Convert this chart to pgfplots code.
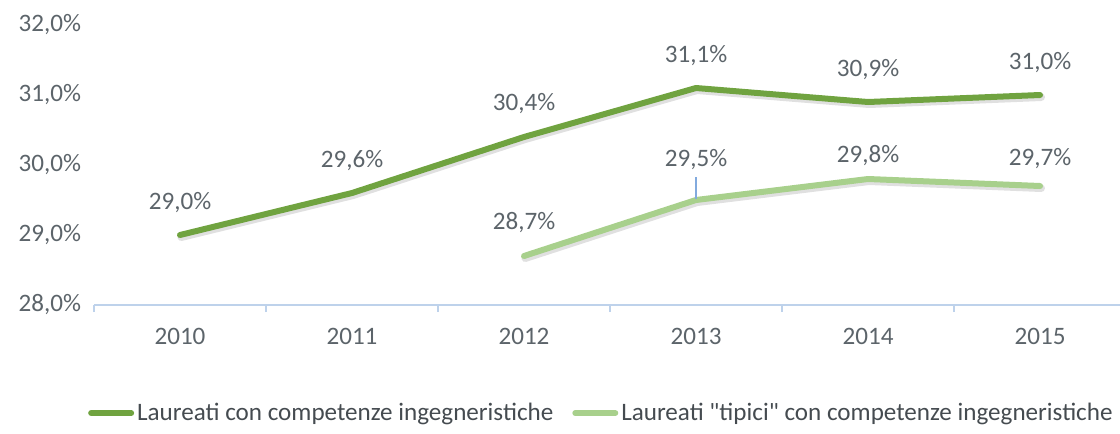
\documentclass[border=0pt]{standalone}
\usepackage{fontspec}
\setmainfont{Carlito}
\usepackage{pgfplots}
\usepackage{pgfplotstable}
\pgfplotsset{compat=1.18}
\definecolor{darkgr}{RGB}{112,163,64}
\definecolor{lightgr}{RGB}{168,208,140}
\definecolor{txtgray}{RGB}{92,100,106}
\definecolor{axblue}{RGB}{190,210,235}
\definecolor{leader}{RGB}{130,170,222}

% x y label-offset(bp)
\pgfplotstableread{
x y off
0 29.0 16
1 29.6 16
2 30.4 16.5
3 31.1 16
4 30.9 16
5 31.0 16
}\laureati
\pgfplotstableread{
x y off
2 28.7 16.5
3 29.5 20
4 29.8 11.5
5 29.7 13.5
}\tipici

\pgfplotsset{
    pctlabels/.style={
        nodes near coords={\pgfmathprintnumber[fixed,fixed zerofill,precision=1,use comma]{\pgfplotspointmeta}\%},
        point meta=y,
        visualization depends on={\thisrow{off} \as \off},
        every node near coord/.append style={anchor=center, yshift=\off bp,
            font=\fontsize{12.6}{14}\selectfont, text=txtgray},
    },
    shadowline/.style={black, opacity=0.12, line width=3.8bp, line join=round,
        line cap=round, forget plot, transform canvas={xshift=0.6bp, yshift=-1.1bp}},
}

\begin{document}
\begin{tikzpicture}
\path[use as bounding box] (-47bp,-64.5bp) rectangle (513bp,152.5bp);
\begin{axis}[
    at={(0,0)}, anchor=south west,
    scale only axis,
    width=513bp, height=140bp,
    xmin=-0.5, xmax=5.465,
    ymin=28, ymax=32,
    xtick={0,...,5},
    xticklabels={2010,2011,2012,2013,2014,2015},
    minor xtick={-0.5,0.5,...,4.5},
    ytick={28,29,30,31,32},
    yticklabel={\pgfmathprintnumber[fixed,fixed zerofill,precision=1,use comma]{\tick}\%},
    /pgf/number format/assume math mode=true,
    axis x line*=bottom,
    axis y line*=left,
    y axis line style={draw=none},
    x axis line style={draw=axblue, line width=0.6pt, -},
    major x tick style={draw=none},
    minor x tick style={draw=axblue, line width=0.6pt},
    minor tick length=3.5bp,
    xtick align=outside,
    ytick style={draw=none},
    tick label style={font=\fontsize{12.6}{14}\selectfont, text=txtgray},
    xticklabel style={yshift=-4bp},
    yticklabel style={xshift=-3bp},
    clip=false,
    legend style={
        at={(0.495,-0.386)}, anchor=center,
        legend columns=2, draw=none, fill=none,
        font=\fontsize{12.6}{15}\selectfont, text=txtgray!75!black,
        nodes={inner xsep=1.5bp},
        /tikz/every even column/.append style={column sep=8bp},
        /tikz/every odd column/.append style={column sep=0pt},
    },
    legend cell align=left,
]
\addplot[shadowline] table[x=x, y=y] {\laureati};
\addplot[shadowline] table[x=x, y=y] {\tipici};
\addplot[darkgr, line width=3bp, line join=round, line cap=round, pctlabels,
    legend image code/.code={\draw[darkgr, line width=3bp] (0,0) -- (20bp,0);}]
    table[x=x, y=y] {\laureati};
\addlegendentry{Laureati con competenze ingegneristiche}
\addplot[lightgr, line width=3bp, line join=round, line cap=round, pctlabels,
    legend image code/.code={\draw[lightgr, line width=3bp] (0,0) -- (20bp,0);}]
    table[x=x, y=y] {\tipici};
\addlegendentry{Laureati \textquotedbl tipici\textquotedbl{} con competenze ingegneristiche}
\addplot[leader, line width=0.6pt, forget plot]
    coordinates {(3,29.52) (3,29.83)};
\end{axis}
\end{tikzpicture}
\end{document}
